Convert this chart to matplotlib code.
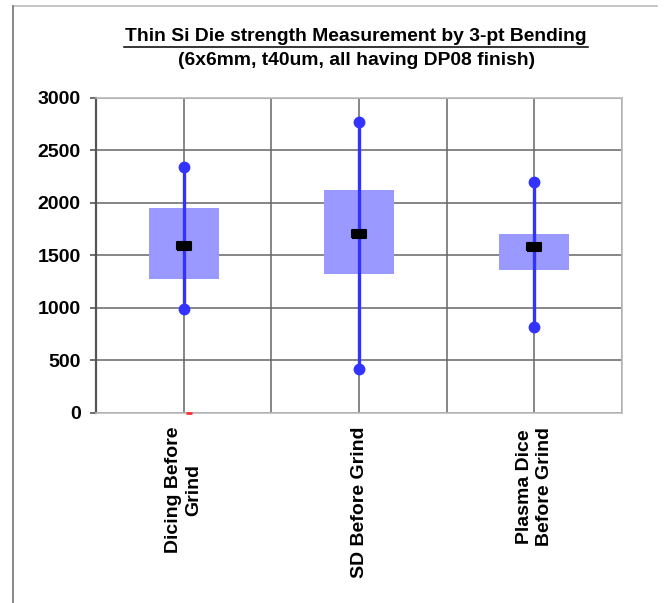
import matplotlib
matplotlib.use("Agg")
import matplotlib.pyplot as plt
from matplotlib.lines import Line2D
from matplotlib.path import Path

plt.rcParams["font.family"] = ["Liberation Sans", "DejaVu Sans"]

categories = ["Dicing Before\nGrind", "SD Before Grind", "Plasma Dice\nBefore Grind"]
mean_vals = [1588, 1703, 1579]
max_vals = [2343, 2769, 2201]
min_vals = [990, 421, 815]
box_top = [1955, 2122, 1700]
box_bottom = [1276, 1320, 1364]
red_vals = [0]


def plot_strength():
    fig = plt.figure(figsize=(6.66, 6.03), dpi=100)
    ax = fig.add_axes([0.1441, 0.3151, 0.7899, 0.5224])

    x = list(range(len(categories)))
    heights = [t - b for t, b in zip(box_top, box_bottom)]
    ax.bar(x, heights, bottom=box_bottom, width=0.4, color="#9999ff", zorder=2)

    for xi, lo, hi in zip(x, min_vals, max_vals):
        ax.plot([xi, xi], [lo, hi], color="#3333ff", lw=2.4, zorder=3,
                marker="o", ms=7.5, solid_capstyle="butt")

    rect = Path([(-1, -0.55), (1, -0.55), (1, 0.55), (-1, 0.55), (-1, -0.55)])
    ax.plot(x, mean_vals, ls="none", marker=rect, ms=10.5, color="black",
            markeredgewidth=1.5, zorder=4)
    ax.plot([0.03], red_vals, ls="none", marker="_", ms=5, mew=2,
            color="#ff3030", zorder=5, clip_on=False)

    ax.set_xlim(-0.5, 2.5)
    ax.set_ylim(0, 3000)
    ax.set_yticks(range(0, 3001, 500))
    ax.set_xticks([-0.5, 0, 0.5, 1, 1.5, 2, 2.5])
    ax.set_xticklabels(["", categories[0], "", categories[1], "", categories[2], ""],
                       rotation=90, fontsize=14, fontweight="bold", va="top",
                       ha="center", multialignment="center")
    ax.tick_params(axis="x", length=0, pad=10)
    ax.tick_params(axis="y", length=4, width=1.2, color="#555555", labelsize=14, pad=7)
    for lab in ax.get_yticklabels():
        lab.set_fontweight("bold")

    ax.grid(True, color="#666666", lw=1.1, zorder=1)
    ax.set_axisbelow(True)
    ax.spines["left"].set_color("#555555")
    ax.spines["left"].set_linewidth(1.6)
    for s in ["right", "bottom", "top"]:
        ax.spines[s].set_color("#bbbbbb")
        ax.spines[s].set_linewidth(1.2)

    fig.text(0.535, 0.940, "Thin Si Die strength Measurement by 3-pt Bending",
             ha="center", va="center", fontsize=13.9, fontweight="bold")
    fig.add_artist(Line2D([0.186, 0.883], [0.922, 0.922], color="black", lw=1.1))
    fig.text(0.535, 0.900, "(6x6mm, t40um, all having DP08 finish)",
             ha="center", va="center", fontsize=13.9, fontweight="bold")

    # frame lines at top and left of the image
    fig.add_artist(Line2D([0.0195, 0.987], [0.990, 0.990], color="#bbbbbb", lw=1.2))
    fig.add_artist(Line2D([0.0195, 0.0195], [0.0, 0.990], color="#888888", lw=1.4))

    fig.savefig("out.png", dpi=100)


if __name__ == "__main__":
    plot_strength()
